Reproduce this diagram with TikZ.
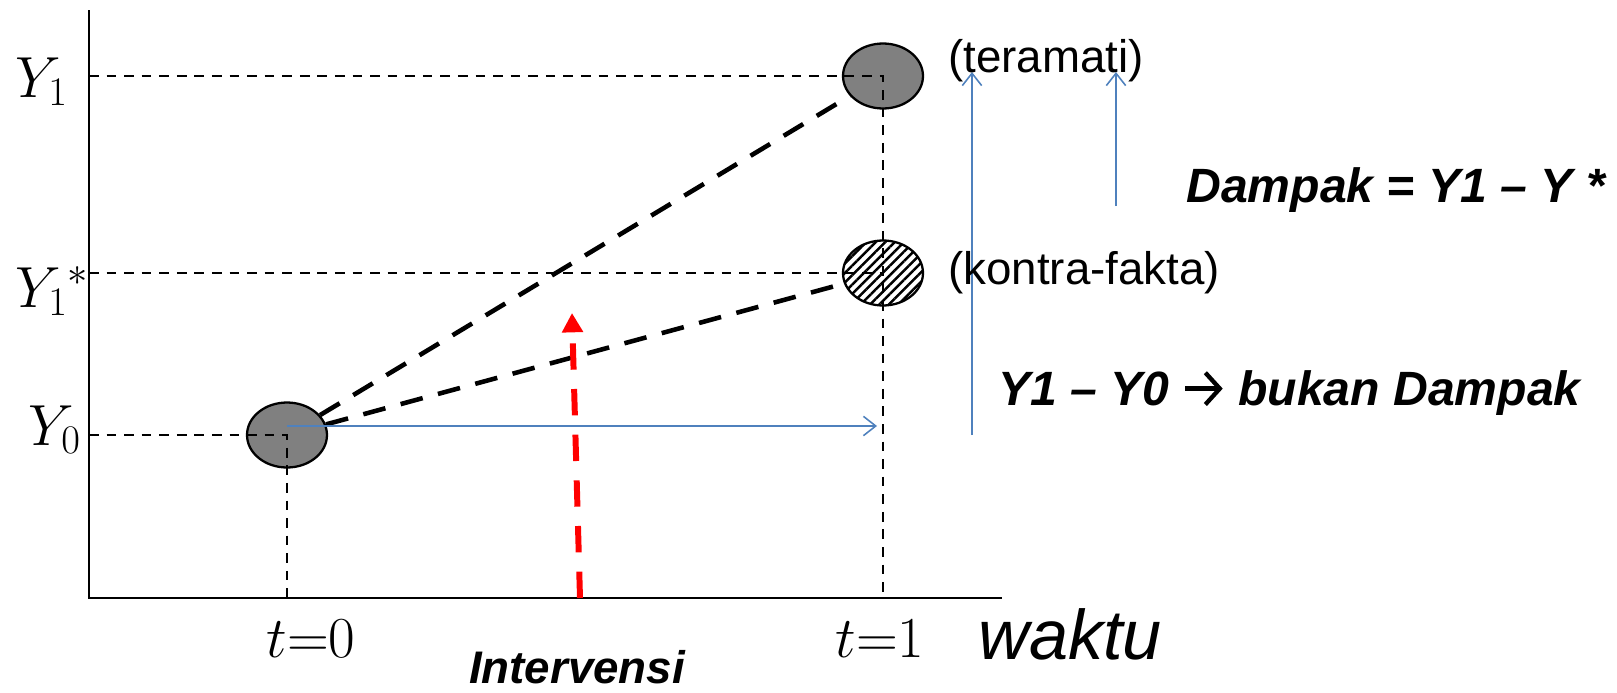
\RequirePackage{fix-cm}
\documentclass[tikz,border=0pt]{standalone}
\usepackage[no-math]{fontspec}
\setmainfont{Liberation Sans}
\usepackage{tikz}
\usetikzlibrary{positioning, arrows.meta, shapes.geometric, patterns.meta}
\definecolor{tgray}{RGB}{128,128,128}
\definecolor{tblue}{RGB}{79,129,189}
\definecolor{tred}{RGB}{255,0,0}
\newcommand{\bigarr}{\tikz[baseline=0pt, x=1em, y=1em]
  \draw[line width=0.09em, -{Straight Barb[length=0.3em, width=0.66em, line width=0.09em]}] (0,0.35) -- (0.78,0.35);}

\begin{document}
\begin{tikzpicture}[x=0.02cm, y=-0.02cm, every node/.style={inner sep=0pt},
    guide/.style={line width=1.1pt, dash pattern=on 5.5pt off 4.5pt},
    link/.style={line width=2.6pt, dash pattern=on 13pt off 9pt},
    outcome/.style={ellipse, draw, line width=1.3pt, minimum width=1.6cm, minimum height=1.3cm},
    gain/.style={draw=tblue, line width=0.9pt, -{Straight Barb[length=7pt,width=11pt]}},
    note/.style={font=\fontsize{26}{30}\selectfont},
    effect/.style={font=\fontsize{27.4}{31}\selectfont\bfseries\itshape},
    mlabel/.style={font=\fontsize{33}{38}\selectfont}]
  \useasboundingbox (0,0) rectangle (1617,693);
  % Axes
  \coordinate (origin) at (89,598);
  \coordinate (ytop) at (89,10);
  \coordinate (xend) at (1002,598);
  \draw[line width=1.5pt] (ytop) -- (origin) -- (xend);
  % Outcome points
  \node[outcome, fill=tgray] (base) at (287,435) {};
  \node[outcome, fill=tgray] (obs) at (883,76) {};
  \node[outcome, fill=white, pattern={Lines[angle=45,distance=3.8pt,line width=1.4pt]}] (cf) at (883,273) {};
  % Guide lines to the axes
  \draw[guide] (origin |- obs) -- (obs.center) -- (obs.center |- origin);
  \draw[guide] (origin |- cf) -- (cf.center);
  \draw[guide] (origin |- base) -- (base.center) -- (base.center |- origin);
  % Trajectories
  \draw[link] (base) -- (obs);
  \draw[link] (base) -- (cf);
  % Intervention
  \coordinate (intvfoot) at (580,598);
  \coordinate (intvtip) at (572,313);
  \draw[tred, line width=3.4pt, dash pattern=on 15pt off 11pt, -{Triangle[length=11pt,width=11.5pt]}] (intvfoot) -- (intvtip);
  % Differences
  \coordinate (runtip) at (877,426);
  \coordinate (gapfoot) at (972,435);
  \coordinate (gaptip) at (972,72);
  \coordinate (netfoot) at (1116,206);
  \coordinate (nettip) at (1116,72);
  \draw[gain] (base.center |- runtip) -- (runtip);
  \draw[gain] (gapfoot) -- (gaptip);
  \draw[gain] (netfoot) -- (nettip);
  % Labels
  \node[mlabel, anchor=base west] (ly1) at (15,97) {$Y_1$};
  \node[mlabel, anchor=base west] (ly1s) at (15,307) {$Y_1{}^{*}$};
  \node[mlabel, anchor=base west] (ly0) at (28,445) {$Y_0$};
  \node[mlabel, anchor=base] (lt0) at (311,657) {$t{=}0$};
  \node[mlabel, anchor=base] (lt1) at (880,657) {$t{=}1$};
  \node[font=\fontsize{40}{46}\selectfont\itshape, anchor=west] (waktu) at (978,634) {waktu};
  \node[font=\fontsize{26}{30}\selectfont\bfseries\itshape, anchor=base] (intv) at (577,683) {Intervensi};
  \node[note, anchor=west] (teramati) at (948,61) {(teramati)};
  \node[note, anchor=west] (kontra) at (948,273) {(kontra-fakta)};
  \node[effect, anchor=west] (dampak) at (1186,190) {Dampak = Y1 \textendash{} Y *};
  \node[effect, anchor=west] (bukan) at (998,393) {Y1 \textendash{} Y0 \bigarr{} bukan Dampak};
\end{tikzpicture}
\end{document}
